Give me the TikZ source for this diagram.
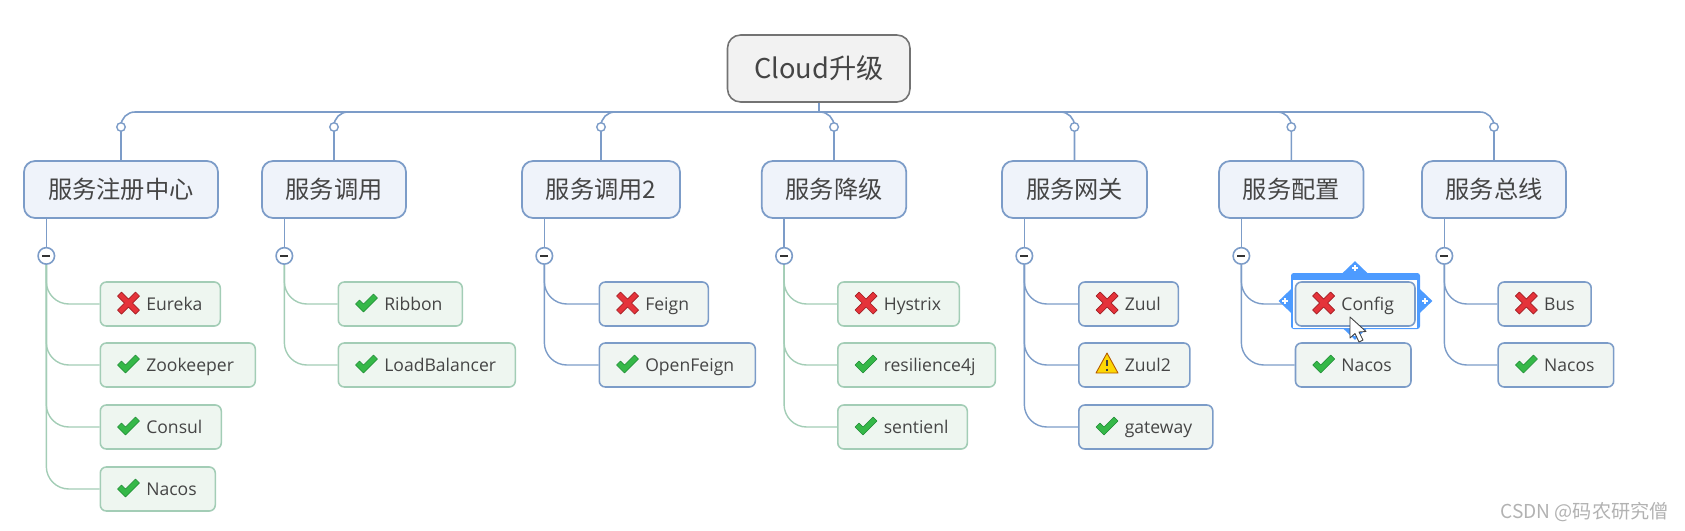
\documentclass[tikz,border=0pt]{standalone}
\usepackage{fontspec}
\setmainfont{Open Sans}
\newfontfamily\cjk{Noto Sans CJK SC}
\usetikzlibrary{calc,shapes.geometric}

\definecolor{inkgray}{HTML}{454545}
\definecolor{linkblue}{HTML}{7C9CC8}
\definecolor{linkgreen}{HTML}{A3CDB6}
\definecolor{selblue}{HTML}{4D9BFF}
\definecolor{topicfill}{HTML}{EFF3FA}
\definecolor{gleaffill}{HTML}{EEF6F0}
\definecolor{bleaffill}{HTML}{F0F5F2}
\definecolor{noline}{HTML}{A31E24}
\definecolor{nofill}{HTML}{E5333A}
\definecolor{yesline}{HTML}{1F8A35}
\definecolor{yesfill}{HTML}{35B848}

\pgfdeclarelayer{linklayer}
\pgfsetlayers{linklayer,main}

\tikzset{
  rootbox/.style={draw=black!55,line width=0.9pt,fill=black!5,rounded corners=0.26cm,minimum width=3.65cm,minimum height=1.34cm,inner sep=0pt,font=\cjk\fontsize{15.5}{18}\selectfont,text=inkgray},
  topicbox/.style={draw=linkblue,line width=1pt,fill=topicfill,rounded corners=0.22cm,minimum height=1.14cm,inner sep=0pt,font=\cjk\fontsize{13.8}{16}\selectfont,text=inkgray},
  gleaf/.style={draw=linkgreen,fill=gleaffill,leafbox},
  bleaf/.style={draw=linkblue,fill=bleaffill,leafbox},
  leafbox/.style={anchor=west,line width=0.9pt,rounded corners=0.12cm,minimum height=0.88cm,inner xsep=0pt,inner ysep=0pt,align=left,text height=9.5pt,text depth=2.4pt,font=\fontsize{10}{11}\selectfont,text=inkgray},
  blink/.style={draw=linkblue,line width=0.8pt},
  glink/.style={draw=linkgreen,line width=0.8pt},
  trunk/.style={draw=linkblue,line width=0.9pt},
  knob/.style={circle,draw=linkblue,line width=0.8pt,fill=white,minimum size=0.17cm,inner sep=0pt},
  toggle/.style={circle,draw=linkblue,line width=0.9pt,fill=white,minimum size=0.33cm,inner sep=0pt},
  handle/.style={diamond,fill=selblue,minimum width=0.5cm,minimum height=0.48cm,inner sep=0pt},
  pics/no/.style={code={
    \draw[fill=nofill,draw=noline,line width=0.4pt,line join=round] (-11,-7) -- (-7,-11) -- (0,-4) -- (7,-11) -- (11,-7) -- (4,0) -- (11,7) -- (7,11) -- (0,4) -- (-7,11) -- (-11,7) -- (-4,0) -- cycle;
  }},
  pics/yes/.style={code={
    \draw[fill=yesfill,draw=yesline,line width=0.3pt,line join=round] (-11,1) -- (-7,-3) -- (-3,1) -- (7,-9) -- (11,-5) -- (-3,9) -- cycle;
  }},
  pics/warn/.style={code={
    \draw[fill=yellow!75!orange,draw=orange!70!black,line width=0.5pt,line join=round] (0,-11) -- (11,9) -- (-11,9) -- cycle;
    \draw[black!75,line width=1.2pt] (0,-4) -- (0,2) (0,4.5) -- (0,6.5);
  }},
}

\begin{document}
\begin{tikzpicture}[x=0.02cm,y=-0.02cm]

\useasboundingbox (0,0) rectangle (1685,531);

\node[rootbox] (cloud) at (818.75,68.5) {Cloud升级};
\coordinate (hub) at (818.75,112);
\coordinate (knobline) at (0,127);
\draw[trunk,line width=1.3pt] (cloud.south) -- (hub);

\foreach \pn/\cx/\ww/\txt in {reg/121/194/服务注册中心,call/334/144/服务调用,calltwo/601/158/服务调用2,fuse/834/144.5/服务降级,gate/1074.5/145/服务网关,conf/1291.3/144.6/服务配置,mbus/1494/144/服务总线}{
  \node[topicbox,minimum width=\ww*0.02cm] (\pn) at (\cx,189.5) {\txt};
  \draw[trunk,rounded corners=0.28cm] (hub) -- (hub -| \pn.north) -- (\pn.north);
  \node[knob] (\pn knob) at (\pn.north |- knobline) {};
  \node[toggle] (\pn tog) at ($(\pn.south west)+(23.2,37)$) {};
  \draw[trunk] ($(\pn.south west)+(23.2,0)$) -- (\pn tog);
  \draw[black!80,line width=0.9pt] ($(\pn tog.center)+(-4,0)$) -- ($(\pn tog.center)+(4,0)$);
}

\foreach \hn/\hx/\hy/\dx/\dy in {htop/1355/273/0/-5,hleft/1291/301/-6/0,hright/1420/301/5/0,hbot/1355/328/0/5}{
  \node[handle] (\hn) at (\hx,\hy) {};
  \draw[white,line width=0.7pt] ($(\hn.center)+(\dx-3,\dy)$) -- ($(\hn.center)+(\dx+3,\dy)$) ($(\hn.center)+(\dx,\dy-3)$) -- ($(\hn.center)+(\dx,\dy+3)$);
}
\fill[selblue,rounded corners=1.5pt] (1291,273) rectangle (1420,329);
\fill[white] (1293,280) rectangle (1417,327.5);

\foreach \pn/\lf/\lx/\ly/\ww/\txt/\ic/\clr in {
  reg/eureka/99.5/304/120/Eureka/no/g,
  reg/zook/99.5/365/155/Zookeeper/yes/g,
  reg/consul/99.5/427/121/Consul/yes/g,
  reg/nacosa/99.5/489/115/Nacos/yes/g,
  call/ribbon/337.5/304/124/Ribbon/yes/g,
  call/lbal/337.5/365/177/LoadBalancer/yes/g,
  calltwo/feign/598.5/304/109/Feign/no/b,
  calltwo/ofeign/598.5/365/156/OpenFeign/yes/b,
  fuse/hystrix/837/304/121.5/Hystrix/no/g,
  fuse/resil/837/365/157.5/resilience4j/yes/g,
  fuse/senti/837/427/129.5/sentienl/yes/g,
  gate/zuul/1078/304/99.5/Zuul/no/b,
  gate/zuultwo/1078/365/111/Zuul2/warn/b,
  gate/gway/1078/427/134/gateway/yes/b,
  conf/config/1294.7/304/119.5/Config/no/b,
  conf/nacosb/1294.7/365/115.5/Nacos/yes/b,
  mbus/bus/1497.4/304/93/Bus/no/b,
  mbus/nacosc/1497.4/365/115.5/Nacos/yes/b}{
  \node[\clr leaf,minimum width=\ww*0.02cm,text width=\ww*0.02cm] (\lf) at (\lx,\ly) {\hspace*{0.92cm}\txt};
  \path ($(\lf.west)+(29,-1)$) pic {\ic};
  \begin{pgfonlayer}{linklayer}
    \draw[\clr link,rounded corners=0.45cm] (\pn tog.south) |- (\lf.west);
  \end{pgfonlayer}
}

\draw[fill=white,draw=black!75,line width=0.5pt,line join=round] (1350,317) -- (1350,338) -- (1355,333.5) -- (1359,342) -- (1363,340) -- (1359,332) -- (1366,331.5) -- cycle;

\node[anchor=east,text=black!30,font=\cjk\fontsize{10.9}{12}\selectfont,inner sep=0pt] (mark) at (1669,512) {CSDN @码农研究僧};

\end{tikzpicture}
\end{document}
